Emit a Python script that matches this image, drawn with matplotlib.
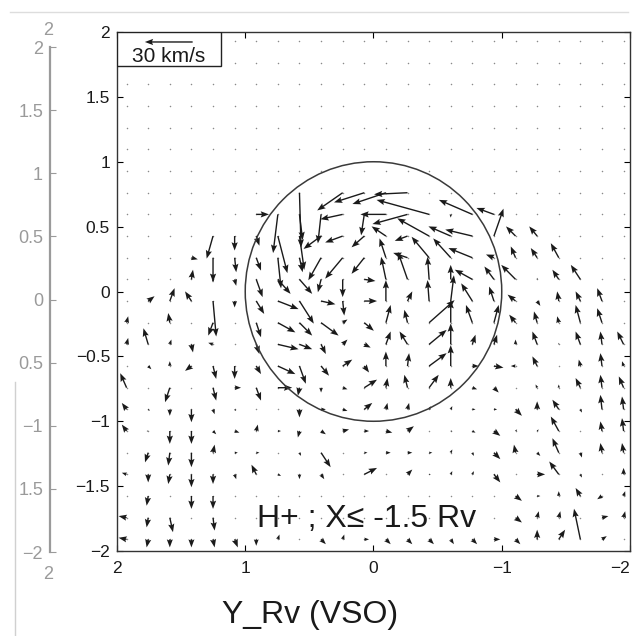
import numpy as np
import matplotlib
matplotlib.use("Agg")
import matplotlib.pyplot as plt
from matplotlib.patches import Circle, Rectangle
from matplotlib.lines import Line2D

plt.rcParams['font.family'] = ['Liberation Sans', 'DejaVu Sans']

# bin centres (Rv): columns from Y=+2 to Y=-2, rows from Z=+2 to Z=-2
y_cells = np.linspace(1.925, -1.95, 24)
z_cells = np.linspace(1.93, -1.91, 24)

# H+ bulk velocity in km/s, one list per grid row, top row first
vy = [[0] * 24] * 7 + [
    [0, 0, 0, 0, 0, 0, 0, 0, -1, 0, 16, 19, 21, 21, 0, 0, 0, 0, 0, 0, 0, 0, 0, 0],
    [0, 0, 0, 0, 0, 0, -8, 3, -2, 2, 14, 2, 16, 22, 33, 0, 21, 11, 0, 0, 0, 0, 0, 0],
    [0, 0, 0, 0, 4, 0, -2, -6, -3, 11, 11, 8, 9, 8, 20, 14, 17, -6, 6, 5, 0, 0, 0, 0],
    [0, 0, 0, -4, 0, -1, -3, -2, -2, 8, 11, 8, 4, 9, 11, 11, 15, 5, 3, 4, 5, 0, 0, 0],
    [0, 0, 0, -1, 0, -1, -4, -8, -8, 2, 0, -7, 3, 6, 1, 0, 11, 6, 9, 0, 4, 6, 0, 0],
    [0, -4, -3, 4, -2, 0, -5, -13, -9, -9, -1, -8, 0, -3, 1, -2, 7, 3, 5, -2, 1, 3, 3, 0],
    [-1, 0, 1, 0, 3, 0, -3, -11, -8, -11, -3, -6, -3, 2, -16, 0, 4, -3, 4, 2, 1, 3, 3, 0],
    [-1, 3, -1, -1, 3, 0, -2, -13, -8, -3, -3, -4, -3, 5, -11, 0, -2, -2, 0, 3, 0, 3, 1, 4],
    [0, -2, 0, 4, -2, 0, -3, -11, -4, -5, -6, -3, 0, -1, -11, 0, -4, -6, 3, 3, 0, 1, 1, 1],
    [4, 0, 3, 0, -2, -4, -3, -9, 1, 0, -3, -8, -1, 2, -6, 0, -3, -3, 0, 1, 0, 3, 1, 3],
    [3, -1, 0, 0, -1, -1, 0, 0, 0, -3, -3, -5, -1, -1, -1, -1, -2, -2, -4, 0, 4, -1, 1, 1],
    [3, 1, 0, 0, -2, -3, -1, -2, 1, -3, -4, -3, -4, -4, 0, -1, -2, -4, -1, -1, 5, 0, 1, 1],
    [0, 2, 1, 0, -1, -2, -2, 0, -1, -6, 0, -2, -3, -3, -2, -1, -1, -4, 1, -2, 4, -1, 1, 1],
    [3, 0, 1, 0, 0, -1, 3, -2, 0, -2, 0, -8, 0, -3, -1, -1, -1, -4, 0, -5, 6, -1, 0, 0],
    [0, 1, 0, 0, 0, 0, 0, 0, 0, 0, 0, 0, 0, 0, 0, 0, 0, 0, -4, -2, 0, 3, 3, -1],
    [5, 1, -2, 0, -1, 0, 0, 0, 0, 0, 0, 0, 0, 0, 0, 0, 0, 0, -4, -1, -1, 0, -4, -1],
    [5, 1, 0, 0, -1, -2, 0, -1, 0, -3, -1, -3, -3, -3, -3, -2, -3, -4, -3, 0, -4, 4, -3, 0],
]
vz = [[0] * 24] * 7 + [
    [0, 0, 0, 0, 0, 0, 0, 0, -34, 0, -11, -6, -7, -1, 0, 0, 0, 0, 0, 0, 0, 0, 0, 0],
    [0, 0, 0, 0, 0, 0, 0, -24, -16, -18, -3, -13, 0, -6, 9, -2, 9, 4, 0, 0, 0, 0, 0, 0],
    [0, 0, 0, 0, -14, -9, -6, -23, -21, -8, -4, -7, 6, -3, 11, 6, 4, 17, 6, 6, 0, 0, 0, 0],
    [0, 0, 0, -1, -15, -9, -8, -19, -9, -14, -13, -10, 12, 3, 13, 12, 6, 2, 7, 6, 9, 0, 0, 0],
    [0, 0, 0, 6, -2, -4, -11, -9, -9, -8, -11, -1, 14, 17, 14, 9, 6, 8, 9, 1, 6, 9, 0, 0],
    [0, 3, 8, 6, -22, -4, -8, -5, -14, -2, -9, 0, 13, 6, 13, 16, 11, 9, 4, -3, 6, 6, 8, 0],
    [4, 0, 6, 0, -8, 0, -9, -6, -8, -8, 2, -5, 11, 8, 14, 14, 11, 11, 5, 7, 4, 11, 9, 0],
    [4, 10, 3, -5, 1, 0, -6, -3, -3, -6, 3, -2, 8, 8, 9, 13, 6, 6, 3, 8, 1, 8, 8, 8],
    [0, -2, 3, -3, -8, -8, -5, -5, -11, -6, 4, -4, 9, 8, 8, 13, 0, -1, 0, 6, 0, 4, 8, 3],
    [9, 0, -9, 0, -8, 0, -8, 0, -5, -3, -1, 5, 6, 8, 8, 6, -1, -3, 0, 2, 2, 6, 8, 7],
    [4, -1, -4, -8, -3, -1, 0, 0, -5, 0, -1, 4, 4, 4, 2, 2, 0, 0, -4, 5, 6, -2, 9, 8],
    [4, 0, -8, -8, -2, -1, 4, 0, -4, -2, 1, 0, -1, 3, 0, 0, -1, -3, 1, 1, 9, 0, 6, 8],
    [0, -6, -8, -9, 5, 0, 0, 0, -2, -9, 0, 0, 0, 0, 0, 2, -2, -4, 5, -2, 9, -3, 6, 6],
    [1, -5, -6, -8, -6, -3, 6, -1, -3, -3, 0, 4, 0, 3, 0, 2, 2, -5, 0, 0, 8, -2, 0, 4],
    [0, -6, 0, -8, -8, 0, 0, 0, 0, 0, 0, 0, 0, 0, 0, 0, 0, 0, -3, 0, 3, 5, -2, 3],
    [1, -6, -9, 0, -8, 0, 0, 0, 0, 0, 0, 0, 0, 0, 0, 0, 0, 0, -3, 4, 4, 0, 1, 4],
    [1, -5, -5, -5, -5, -5, -4, 3, 0, -3, 3, 0, -3, -3, -3, -3, -3, 0, -3, 6, 6, 19, 2, 0],
]

key_speed = 30  # km/s
ticks_y = [2, 1, 0, -1, -2]
ticks_z = [2, 1.5, 1, 0.5, 0, -0.5, -1, -1.5, -2]
ghost_labels = ['2', '1.5', '1', '0.5', '0', '0.5', '\u22121', '1.5', '\u22122']

VY = np.array(vy, dtype=float)
VZ = np.array(vz, dtype=float)
YY, ZZ = np.meshgrid(y_cells, z_cells)

arrow_kw = dict(angles='xy', scale_units='xy', scale=80.5, width=0.0027,
                headwidth=4.5, headlength=6, headaxislength=5.2, color='#1a1a1a')

fig = plt.figure(figsize=(6.34, 6.36), dpi=100)

# faded axis of the neighbouring panel (scan)
gax = fig.add_axes([0.0789, 0.132, 0.01, 0.794])
gax.set_ylim(-2, 2)
gax.set_xlim(0, 1)
for s in ['top', 'right', 'bottom']:
    gax.spines[s].set_visible(False)
gax.spines['left'].set_color('#9a9a9a')
gax.spines['left'].set_linewidth(1.6)
gax.set_xticks([])
gax.set_yticks(ticks_z)
gax.set_yticklabels(ghost_labels)
gax.tick_params(axis='y', direction='in', length=4, color='#9a9a9a',
                labelcolor='#9a9a9a', labelsize=13, pad=5)
gax.patch.set_visible(False)
fig.text(0.076, 0.952, '2', color='#9a9a9a', fontsize=13, ha='center', va='center')
fig.text(0.076, 0.096, '2', color='#9a9a9a', fontsize=13, ha='center', va='center')
fig.add_artist(Line2D([0.016, 0.99], [0.981, 0.981], color='#dddddd', lw=1))
fig.add_artist(Line2D([0.024, 0.024], [0.0, 0.40], color='#d0d0d0', lw=1))

ax = fig.add_axes([0.1845, 0.1336, 0.8092, 0.8161])
ax.set_xlim(2, -2)
ax.set_ylim(-2, 2)

ax.scatter(YY.ravel(), ZZ.ravel(), s=1.2, color='#8a8a8a', linewidths=0, zorder=1)
ax.quiver(YY, ZZ, VY, VZ, minlength=0, zorder=2, **arrow_kw)

ax.add_patch(Circle((0, 0), 1, fill=False, ec='#3a3a3a', lw=1.1, zorder=2))

# key box
ax.add_patch(Rectangle((0, 1 - 34 / 519), 104 / 513, 34 / 519, transform=ax.transAxes,
                       fc='white', ec='#222222', lw=1, zorder=3))
ax.quiver([1.41], [1.923], [key_speed], [0], zorder=4, **arrow_kw)
ax.text(0.101, 0.942, '%d km/s' % key_speed, transform=ax.transAxes, ha='center',
        va='baseline', fontsize=15, color='#1a1a1a', zorder=4)

ax.text(0.273, 0.046, 'H+ ; X\u2264 -1.5 Rv', transform=ax.transAxes, ha='left',
        va='baseline', fontsize=23, color='#1a1a1a', zorder=4)

ax.set_xticks(ticks_y)
ax.set_xticklabels(['2', '1', '0', '\u22121', '\u22122'])
ax.set_yticks(ticks_z)
ax.set_yticklabels(['2', '1.5', '1', '0.5', '0', '\u22120.5', '\u22121', '\u22121.5', '\u22122'])
ax.tick_params(direction='in', top=True, right=True, length=4, width=0.8,
               labelsize=12.5, labelcolor='#1a1a1a')
ax.tick_params(axis='x', pad=7)
ax.tick_params(axis='y', pad=5)
ax.get_xticklabels()[-1].set_horizontalalignment('right')
for s in ax.spines.values():
    s.set_color('#333333')
    s.set_linewidth(1)

fig.text(0.350, 0.0204, 'Y_Rv (VSO)', ha='left', va='baseline', fontsize=23,
         color='#1a1a1a')

fig.savefig('out.png', dpi=100)
